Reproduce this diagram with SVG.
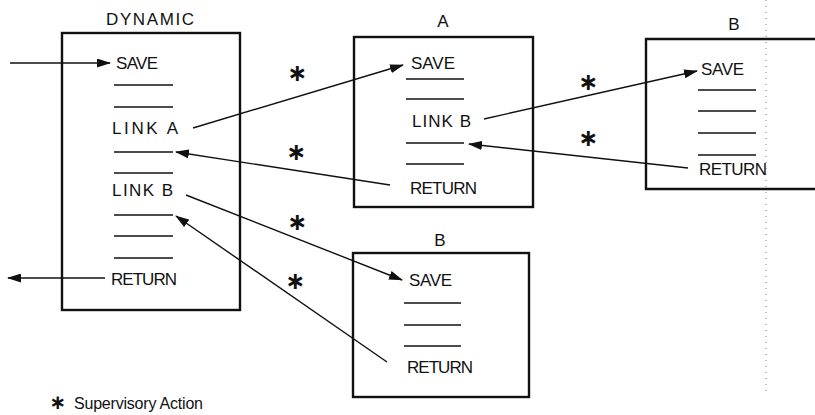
<svg xmlns="http://www.w3.org/2000/svg" width="815" height="415" viewBox="0 0 815 415">
  <defs>
    <marker id="arrow" markerUnits="userSpaceOnUse" markerWidth="14" markerHeight="9" refX="13" refY="4.5" orient="auto">
      <path d="M0,0 L14,4.5 L0,9 z" fill="#111"/>
    </marker>
    <style>
      .box { fill: none; stroke: #111; stroke-width: 2.4; }
      .rule { stroke: #111; stroke-width: 1.5; }
      .lbl { font-family: "Liberation Sans", Arial, sans-serif; font-size: 17px; fill: #111; }
      .title { font-family: "Liberation Sans", Arial, sans-serif; font-size: 17px; fill: #111; text-anchor: middle; }
      .star { font-family: "DejaVu Sans", sans-serif; font-size: 24px; font-weight: bold; fill: #111; text-anchor: middle; }
      .conn { fill: none; stroke: #111; stroke-width: 1.4; marker-end: url(#arrow); }
      .fold { stroke: #777; stroke-width: 1; stroke-dasharray: 1 5; fill: none; }
    </style>
  </defs>

  <rect width="815" height="415" fill="#fff"/>

  <!-- crease down the right side of the sheet -->
  <line class="fold" x1="766" y1="0" x2="766" y2="395"/>

  <!-- main routine -->
  <g id="dynamic">
    <text class="title" x="150" y="25" textLength="88">DYNAMIC</text>
    <rect class="box" x="62" y="33" width="178" height="277"/>
    <text class="lbl" x="116" y="69" textLength="42">SAVE</text>
    <line class="rule" x1="114" y1="85" x2="173" y2="85"/>
    <line class="rule" x1="114" y1="107" x2="173" y2="107"/>
    <text class="lbl" x="112" y="134" textLength="66">LINK A</text>
    <line class="rule" x1="114" y1="152" x2="173" y2="152"/>
    <line class="rule" x1="114" y1="173" x2="173" y2="173"/>
    <text class="lbl" x="112" y="196" textLength="61">LINK B</text>
    <line class="rule" x1="114" y1="215" x2="173" y2="215"/>
    <line class="rule" x1="114" y1="236" x2="173" y2="236"/>
    <line class="rule" x1="114" y1="258" x2="173" y2="258"/>
    <text class="lbl" x="111" y="285" textLength="66">RETURN</text>
  </g>

  <!-- routine A -->
  <g id="routine-a">
    <text class="title" x="443" y="27">A</text>
    <rect class="box" x="354" y="37" width="179" height="170"/>
    <text class="lbl" x="411" y="69" textLength="44">SAVE</text>
    <line class="rule" x1="406" y1="79" x2="464" y2="79"/>
    <line class="rule" x1="406" y1="99" x2="464" y2="99"/>
    <text class="lbl" x="412" y="127" textLength="59">LINK B</text>
    <line class="rule" x1="406" y1="143" x2="464" y2="143"/>
    <line class="rule" x1="406" y1="164" x2="464" y2="164"/>
    <text class="lbl" x="410" y="194" textLength="67">RETURN</text>
  </g>

  <!-- routine B, called from A -->
  <g id="routine-b-upper">
    <text class="title" x="734" y="30">B</text>
    <path class="box" d="M815,39 H646 V189 H815"/>
    <text class="lbl" x="701" y="75" textLength="43">SAVE</text>
    <line class="rule" x1="698" y1="90" x2="756" y2="90"/>
    <line class="rule" x1="698" y1="111" x2="756" y2="111"/>
    <line class="rule" x1="698" y1="133" x2="756" y2="133"/>
    <line class="rule" x1="698" y1="155" x2="756" y2="155"/>
    <text class="lbl" x="699" y="175" textLength="68">RETURN</text>
  </g>

  <!-- routine B, called from DYNAMIC -->
  <g id="routine-b-lower">
    <text class="title" x="440" y="246">B</text>
    <rect class="box" x="353" y="253" width="176" height="144"/>
    <text class="lbl" x="409" y="286" textLength="43">SAVE</text>
    <line class="rule" x1="404" y1="303" x2="461" y2="303"/>
    <line class="rule" x1="404" y1="325" x2="461" y2="325"/>
    <line class="rule" x1="404" y1="346" x2="461" y2="346"/>
    <text class="lbl" x="407" y="373" textLength="66">RETURN</text>
  </g>

  <!-- control transfers -->
  <g id="connectors">
    <line class="conn" x1="10" y1="63" x2="110" y2="63"/>
    <line class="conn" x1="193" y1="128" x2="403" y2="65"/>
    <line class="conn" x1="390" y1="185" x2="176" y2="152"/>
    <line class="conn" x1="186" y1="195" x2="402" y2="280"/>
    <line class="conn" x1="387" y1="362" x2="176" y2="216"/>
    <line class="conn" x1="484" y1="119" x2="697" y2="71"/>
    <line class="conn" x1="688" y1="168" x2="469" y2="144"/>
    <line class="conn" x1="105" y1="278" x2="8" y2="278"/>
  </g>

  <!-- supervisory action marks -->
  <g id="marks">
    <text class="star" x="297" y="81">∗</text>
    <text class="star" x="296" y="160">∗</text>
    <text class="star" x="297" y="230">∗</text>
    <text class="star" x="295" y="289">∗</text>
    <text class="star" x="588" y="90">∗</text>
    <text class="star" x="588" y="146">∗</text>
  </g>

  <g id="legend">
    <text class="star" x="58" y="409" style="font-size:20px">∗</text>
    <text class="lbl" x="74" y="409" style="font-size:16px" textLength="129">Supervisory Action</text>
  </g>
</svg>
